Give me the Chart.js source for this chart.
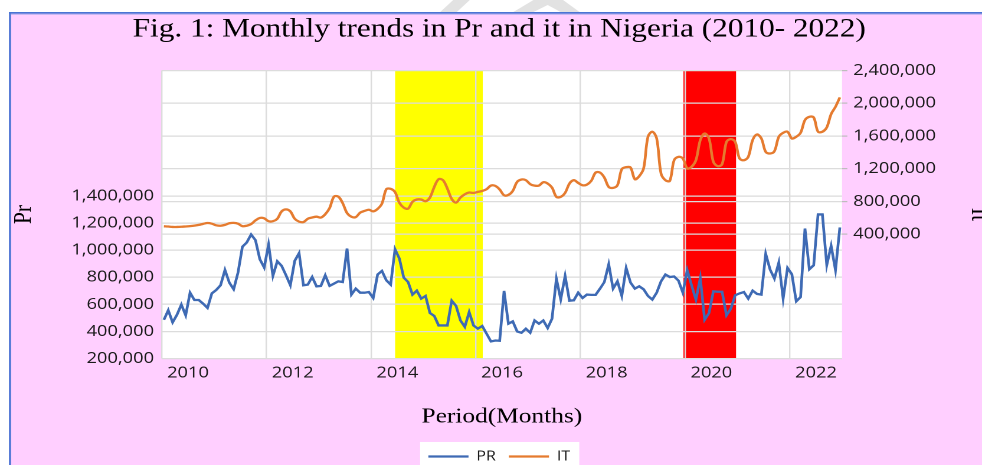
<!DOCTYPE html>
<html>
<head>
<meta charset="utf-8">
<script src="https://cdn.jsdelivr.net/npm/chart.js@4/dist/chart.umd.min.js"></script>
<style>
html,body{margin:0;padding:0;background:#ffffff;overflow:hidden;}
#c{display:block;width:982px;height:465px;}
</style>
</head>
<body>
<canvas id="c" width="832" height="465" style="width:982px;height:465px"></canvas>
<script>
// ---------------- data ----------------
const startYear = 2010;
const endYear = 2023;
const yearTicks = [2010, 2012, 2014, 2016, 2018, 2020, 2022];
const leftTicks = [200000, 400000, 600000, 800000, 1000000, 1200000, 1400000];
const rightTicks = [400000, 800000, 1200000, 1600000, 2000000, 2400000];
const seriesNames = ['PR', 'IT'];

// monthly values Jan 2010 .. Dec 2022
const prValues = [
 486000,556000,467000,523000,598000,519000,686000,632000,632000,605000,573000,681000,
 706000,741000,854000,761000,711000,835000,1025000,1057000,1116000,1074000,933000,872000,
 1042000,810000,918000,884000,815000,741000,921000,978000,741000,746000,802000,733000,
 736000,815000,736000,753000,770000,765000,1012000,672000,716000,686000,686000,691000,
 647000,820000,847000,778000,746000,1007000,938000,797000,765000,672000,701000,642000,
 662000,536000,514000,444000,444000,444000,627000,588000,481000,434000,543000,444000,
 420000,440000,383000,326000,333000,331000,699000,457000,474000,400000,390000,420000,
 390000,481000,457000,481000,425000,494000,790000,637000,810000,627000,630000,686000,
 647000,672000,670000,670000,716000,765000,896000,716000,770000,662000,869000,761000,
 716000,733000,711000,662000,635000,686000,770000,820000,802000,806000,775000,686000,
 852000,741000,635000,795000,486000,536000,696000,693000,693000,519000,568000,667000,
 681000,691000,642000,701000,677000,672000,973000,857000,790000,909000,642000,869000,
 822000,622000,654000,1160000,859000,889000,1264000,1264000,889000,1032000,852000,1168000
];
const itValues = [
 498000,495000,490000,490000,492000,496000,500000,506000,515000,528000,538000,530000,
 510000,505000,515000,535000,540000,530000,500000,505000,525000,570000,600000,595000,
 560000,560000,590000,680000,705000,680000,590000,555000,550000,590000,605000,615000,
 605000,645000,720000,860000,860000,780000,660000,615000,610000,665000,685000,700000,
 680000,710000,775000,950000,955000,915000,785000,726000,714000,797000,825000,825000,
 804000,849000,979000,1073000,1061000,959000,832000,787000,849000,889000,910000,906000,
 918000,930000,951000,995000,991000,947000,877000,881000,930000,1040000,1069000,1061000,
 1012000,995000,995000,1036000,1020000,971000,857000,857000,906000,1020000,1061000,1028000,
 999000,1007000,1053000,1154000,1154000,1093000,979000,967000,999000,1195000,1220000,1216000,
 1073000,1110000,1204000,1591000,1652000,1570000,1142000,1061000,1052000,1305000,1346000,1326000,
 1204000,1224000,1305000,1550000,1631000,1570000,1285000,1232000,1256000,1529000,1562000,1529000,
 1326000,1305000,1346000,1550000,1619000,1570000,1407000,1387000,1415000,1591000,1639000,1652000,
 1570000,1591000,1639000,1795000,1835000,1827000,1652000,1652000,1705000,1868000,1957000,2072000
];
// shaded periods (in years)
const bandStart = [2014.46, 2019.97];
const bandEnd = [2016.135, 2020.975];

// ---------------- styles ----------------
const W = 832, H = 465;            // internal canvas size (displayed stretched to 982 wide)
const BLUE = '#3E6AB4', ORANGE = '#E57B2F';
const bandColors = ['#FFFF00', '#FF0000'];
const PINK = '#FFCFFF';
const GRID = '#dcdcdc';
const TXT = '#1a1a1a';
const SERIF = "'Liberation Serif', 'Times New Roman', serif";
const SANS = "'Open Sans', sans-serif";

const toPoints = vals => vals.map((v, i) => ({x: startYear + (i + 0.5) / 12, y: v}));

const bgPlugin = {
  id: 'bg',
  beforeDraw(chart) {
    const {ctx, chartArea: a, scales} = chart;
    ctx.save();
    ctx.fillStyle = '#ffffff';
    ctx.fillRect(0, 0, W, H);
    // faint watermark strokes at the very top
    ctx.fillStyle = '#e2e2e2';
    ctx.beginPath();
    ctx.moveTo(384, 0); ctx.lineTo(398, 0); ctx.lineTo(387, 12); ctx.lineTo(373, 12); ctx.closePath(); ctx.fill();
    ctx.beginPath();
    ctx.moveTo(452, 0); ctx.lineTo(477, 0); ctx.lineTo(491, 12); ctx.lineTo(475, 12);
    ctx.lineTo(464, 5); ctx.lineTo(452, 12); ctx.lineTo(435, 12); ctx.closePath(); ctx.fill();
    // pink chart box + border
    const bx = 7.6, by = 12;
    ctx.fillStyle = PINK;
    ctx.fillRect(bx, by, W - bx, H - by);
    ctx.fillStyle = '#4A74D4';
    ctx.fillRect(bx, by, W - bx, 1.8);
    ctx.fillRect(bx, by, 1.7, H - by);
    ctx.fillStyle = '#c9b8f2';
    ctx.fillRect(bx + 1.7, by + 1.8, W - bx, 1.2);
    // plot area
    ctx.fillStyle = '#ffffff';
    ctx.fillRect(a.left, a.top, a.right - a.left, a.bottom - a.top);
    // shaded periods
    bandStart.forEach((s, k) => {
      const x1 = scales.x.getPixelForValue(s);
      const x2 = scales.x.getPixelForValue(bandEnd[k]);
      ctx.fillStyle = bandColors[k];
      ctx.fillRect(x1, a.top, x2 - x1, a.bottom - a.top);
    });
    // legend box
    const lg = chart.legend;
    if (lg && lg.legendHitBoxes && lg.legendHitBoxes.length) {
      const hb = lg.legendHitBoxes;
      const l = hb[0].left - 7;
      const r = hb[hb.length - 1].left + hb[hb.length - 1].width + 7.7;
      ctx.fillStyle = '#ffffff';
      ctx.fillRect(l, 442, r - l, H - 442);
    }
    ctx.restore();
  }
};

const setTicks = list => axis => { axis.ticks = list.map(v => ({value: v})); };

new Chart(document.getElementById('c'), {
  type: 'line',
  data: {
    datasets: [
      {label: seriesNames[0], data: toPoints(prValues), yAxisID: 'y', borderColor: BLUE, backgroundColor: BLUE,
       borderWidth: 2.3, pointRadius: 0, tension: 0, fill: false},
      {label: seriesNames[1], data: toPoints(itValues), yAxisID: 'y1', borderColor: ORANGE, backgroundColor: ORANGE,
       borderWidth: 2.3, pointRadius: 0, tension: 0.35, fill: false}
    ]
  },
  options: {
    responsive: false,
    animation: false,
    devicePixelRatio: 2,
    events: [],
    layout: {padding: {left: 7.6, top: 12, right: -6.4, bottom: -8.25}},
    plugins: {
      title: {
        display: true,
        text: 'Fig. 1: Monthly trends in Pr and it in Nigeria (2010- 2022)',
        color: '#000',
        font: {family: SERIF, size: 26.5, weight: 'normal'},
        padding: {top: 1.5, bottom: 25.2}
      },
      legend: {
        position: 'bottom',
        labels: {
          usePointStyle: true, pointStyle: 'line', pointStyleWidth: 34,
          color: TXT, font: {family: SANS, size: 13.5}, padding: 11
        }
      },
      tooltip: {enabled: false}
    },
    scales: {
      x: {
        type: 'linear', min: startYear, max: endYear, position: 'bottom',
        afterBuildTicks: setTicks(yearTicks),
        grid: {color: GRID, lineWidth: 1.2, drawTicks: false},
        border: {display: false},
        ticks: {color: TXT, font: {family: SANS, size: 15.5}, padding: 5.5, labelOffset: 22.3,
                maxRotation: 0, autoSkip: false, callback: v => String(v)},
        title: {display: true, text: 'Period(Months)', color: '#000',
                font: {family: SERIF, size: 21.5}, padding: {top: 0, bottom: 8.85}},
        afterFit: s => { s.height = 80.25; }
      },
      y: {
        type: 'linear', position: 'left', min: 200000, max: 2327000,
        afterBuildTicks: setTicks(leftTicks),
        grid: {color: GRID, lineWidth: 1.2, drawTicks: false},
        border: {display: false},
        ticks: {color: TXT, font: {family: SANS, size: 15.5}, padding: 6.5,
                callback: v => v.toLocaleString('en-US')},
        title: {display: true, text: 'Pr', color: '#000',
                font: {family: SERIF, size: 21.5}, padding: {top: 0, bottom: 0}},
        afterFit: s => { s.width = 129.4; }
      },
      y1: {
        type: 'linear', position: 'right', min: -1116000, max: 2400000,
        afterBuildTicks: setTicks(rightTicks),
        grid: {color: GRID, lineWidth: 1.2, drawTicks: true, tickLength: 4.5, tickColor: '#bdbdbd'},
        border: {display: false},
        ticks: {color: TXT, font: {family: SANS, size: 15.5}, padding: 5,
                callback: v => v.toLocaleString('en-US')},
        title: {display: true, text: 'It', color: '#000',
                font: {family: SERIF, size: 21.5}, padding: {top: -3.7, bottom: 0}},
        afterFit: s => { s.width = 125; }
      }
    }
  },
  plugins: [bgPlugin]
});
</script>
</body>
</html>
